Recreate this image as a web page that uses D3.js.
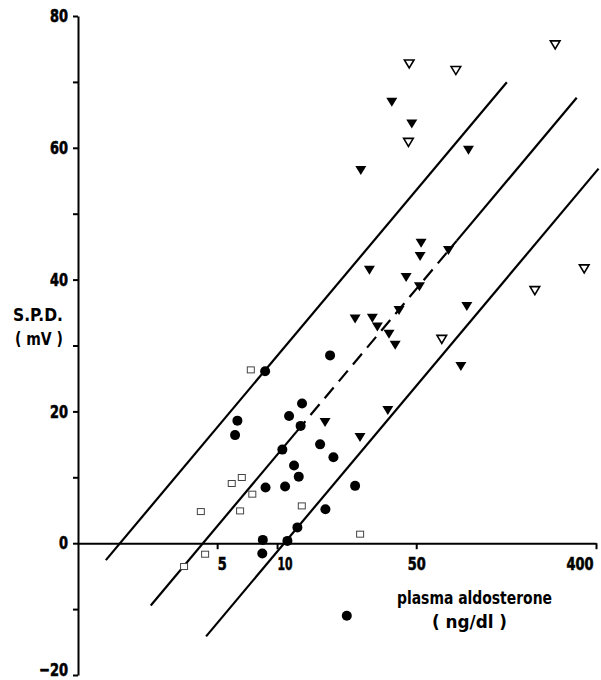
<!DOCTYPE html>
<html>
<head>
<meta charset="utf-8">
<script src="https://cdn.jsdelivr.net/npm/d3@7"></script>
<style>
  html, body { margin: 0; padding: 0; background: #fff; }
  svg { display: block; }
  text { font-family: "Liberation Sans Narrow", "DejaVu Sans Condensed", "Arial Narrow", sans-serif; font-weight: bold; fill: #000; }
</style>
</head>
<body>
<svg id="chart" width="601" height="680"></svg>
<script>
// ---------------- DATA ----------------
// filled circles (plasma aldosterone ng/dl, S.P.D. mV)
const circleX = [8.71, 6.32, 6.15, 11.49, 13.35, 13.13, 10.63, 12.17, 12.85, 8.75, 10.97, 12.65, 8.48, 11.27, 8.43, 18.46, 16.45, 19.19, 24.66, 17.49, 22.4];
const circleY = [26.1, 18.6, 16.4, 19.3, 21.2, 17.8, 14.2, 11.8, 10.1, 8.45, 8.6, 2.4, 0.5, 0.35, -1.56, 28.5, 15.0, 13.05, 8.7, 5.16, -11.0];

// open squares
const squareX = [7.38, 6.65, 5.92, 7.51, 4.14, 6.52, 4.35, 3.41, 13.31, 26.13];
const squareY = [26.3, 9.97, 9.06, 7.44, 4.8, 4.9, -1.67, -3.54, 5.66, 1.37];

// filled down-triangles
const filledTriX = [26.34, 91.5, 37.7, 47.5, 52.9, 52.3, 72.6, 29.1, 44.5, 51.9, 41.0, 89.8, 24.66, 30.1, 31.9, 36.5, 39.2, 83.8, 36.0, 17.42, 26.1];
const filledTriY = [56.65, 59.7, 67.0, 63.7, 45.6, 43.6, 44.5, 41.5, 40.4, 39.0, 35.4, 36.0, 34.1, 34.2, 32.9, 31.8, 30.1, 26.9, 20.2, 18.4, 16.1];

// open down-triangles
const openTriX = [46.1, 79.1, 249.5, 45.7, 349, 197.2, 67.2];
const openTriY = [72.8, 71.8, 75.7, 60.9, 41.7, 38.4, 31.0];

// regression line and its +/- band: y = slope*log10(x) + intercept
const lineSlope = 36;
const lineIntercepts = [-7.6, -22.6, -37.3];
const lineStartX = [1.38, 2.32, 4.40];
const lineEndX = [142.6, 320, 412];
// dashed middle portion of the central line (x range)
const dashedStartX = 12.5;
const dashedEndX = 80;

// axes
const xTickValues = [5, 10, 50, 400];
const yTickValues = [-20, 0, 20, 40, 60, 80];
const yMinorTickValues = [-10, 10, 30, 50, 70];
const xDomain = [1, 400];
const yDomain = [-20, 80];
const yTitle = ["S.P.D.", "( mV )"];
const xTitle = ["plasma aldosterone", "( ng/dl )"];

// ---------------- CHART ----------------
const svg = d3.select("#chart");
const x = d3.scaleLog().domain(xDomain).range([78, 596]);
const y = d3.scaleLinear().domain(yDomain).range([675, 16]);

const lineY = (i, v) => lineSlope * Math.log10(v) + lineIntercepts[i];
const labelWidth = s => {
  let w = 0;
  for (const c of String(s)) w += (c === "1") ? 6 : (c === "\u2212" ? 11 : 9);
  return w;
};

// Y axis
const yAxis = svg.append("g")
  .attr("transform", `translate(${x(xDomain[0])},0)`)
  .call(d3.axisLeft(y).tickValues(yTickValues).tickSize(5).tickSizeOuter(0).tickPadding(5).tickFormat(d => d < 0 ? "\u2212" + Math.abs(d) : String(d)));
yAxis.attr("font-family", null).attr("font-size", null);
yAxis.select(".domain").attr("stroke", "#000").attr("stroke-width", 2);
yAxis.selectAll(".tick line").attr("stroke", "#000").attr("stroke-width", 2);
yAxis.selectAll(".tick text")
  .attr("font-size", 18)
  .attr("text-anchor", "start")
  .attr("x", function() { return -10 - labelWidth(this.textContent); })
  .attr("dy", d => d === yDomain[0] ? "0.05em" : "0.32em")
  .attr("stroke", "#000").attr("stroke-width", 0.6)
  .attr("textLength", function() { return labelWidth(this.textContent); })
  .attr("lengthAdjust", "spacingAndGlyphs");

const yMinor = svg.append("g")
  .attr("transform", `translate(${x(xDomain[0])},0)`)
  .call(d3.axisLeft(y).tickValues(yMinorTickValues).tickSize(5).tickFormat(""));
yMinor.select(".domain").remove();
yMinor.selectAll(".tick line").attr("stroke", "#000").attr("stroke-width", 2);

// X axis at y = 0
const xAxis = svg.append("g")
  .attr("transform", `translate(0,${y(0)})`)
  .call(d3.axisBottom(x).tickValues(xTickValues).tickSize(6).tickSizeOuter(0).tickPadding(8).tickFormat(d3.format("d")));
xAxis.attr("font-family", null).attr("font-size", null);
xAxis.select(".domain").attr("stroke", "#000").attr("stroke-width", 2);
xAxis.selectAll(".tick line").attr("stroke", "#000").attr("stroke-width", 2);
const xAnchorShift = [0, 0, 0.5, 1];   // fraction of label width shifted left
xAxis.selectAll(".tick text")
  .attr("font-size", 18)
  .attr("y", 14)
  .attr("text-anchor", "start")
  .attr("x", function(d, i) { return -xAnchorShift[i] * labelWidth(this.textContent) - (i === 3 ? 3 : 0); })
  .attr("stroke", "#000").attr("stroke-width", 0.6)
  .attr("textLength", function() { return labelWidth(this.textContent); })
  .attr("lengthAdjust", "spacingAndGlyphs");

// Regression lines
const lg = svg.append("g").attr("fill", "none").attr("stroke", "#000").attr("stroke-width", 2.2);
lineIntercepts.forEach((b, i) => {
  if (i === 1) {
    const segs = [[lineStartX[i], dashedStartX, null], [dashedStartX, dashedEndX, "14,8"], [dashedEndX, lineEndX[i], null]];
    segs.forEach(s => {
      lg.append("line")
        .attr("x1", x(s[0])).attr("y1", y(lineY(i, s[0])))
        .attr("x2", x(s[1])).attr("y2", y(lineY(i, s[1])))
        .attr("stroke-dasharray", s[2]);
    });
  } else {
    lg.append("line")
      .attr("x1", x(lineStartX[i])).attr("y1", y(lineY(i, lineStartX[i])))
      .attr("x2", x(lineEndX[i])).attr("y2", y(lineY(i, lineEndX[i])));
  }
});

// Markers
const triPath = "M-5.5,-4 L5.5,-4 L0,5 Z";

svg.append("g").selectAll("rect")
  .data(squareX.map((v, i) => [v, squareY[i]]))
  .join("rect")
  .attr("x", d => x(d[0]) - 3.5).attr("y", d => y(d[1]) - 3)
  .attr("width", 7).attr("height", 6)
  .attr("fill", "#fff").attr("stroke", "#444").attr("stroke-width", 1);

svg.append("g").selectAll("circle")
  .data(circleX.map((v, i) => [v, circleY[i]]))
  .join("circle")
  .attr("cx", d => x(d[0])).attr("cy", d => y(d[1]))
  .attr("r", 5).attr("fill", "#000");

svg.append("g").selectAll("path")
  .data(filledTriX.map((v, i) => [v, filledTriY[i]]))
  .join("path")
  .attr("d", triPath)
  .attr("transform", d => `translate(${x(d[0])},${y(d[1])})`)
  .attr("fill", "#000");

svg.append("g").selectAll("path")
  .data(openTriX.map((v, i) => [v, openTriY[i]]))
  .join("path")
  .attr("d", "M-4.8,-3.5 L4.8,-3.5 L0,4.5 Z")
  .attr("transform", d => `translate(${x(d[0])},${y(d[1])})`)
  .attr("fill", "#fff").attr("stroke", "#000").attr("stroke-width", 1.6);

// Axis titles
svg.append("text").attr("x", 13).attr("y", 321).attr("font-size", 17)
  .attr("textLength", 50).attr("lengthAdjust", "spacingAndGlyphs").text(yTitle[0]);
svg.append("text").attr("x", 15).attr("y", 345).attr("font-size", 17)
  .attr("textLength", 48).attr("lengthAdjust", "spacingAndGlyphs").attr("xml:space", "preserve").text(yTitle[1]);

svg.append("text").attr("x", 397).attr("y", 604).attr("font-size", 17)
  .attr("textLength", 155).attr("lengthAdjust", "spacingAndGlyphs").text(xTitle[0]);
svg.append("text").attr("x", 432).attr("y", 628).attr("font-size", 17)
  .attr("textLength", 75).attr("lengthAdjust", "spacingAndGlyphs").attr("xml:space", "preserve").text(xTitle[1]);
</script>
</body>
</html>
